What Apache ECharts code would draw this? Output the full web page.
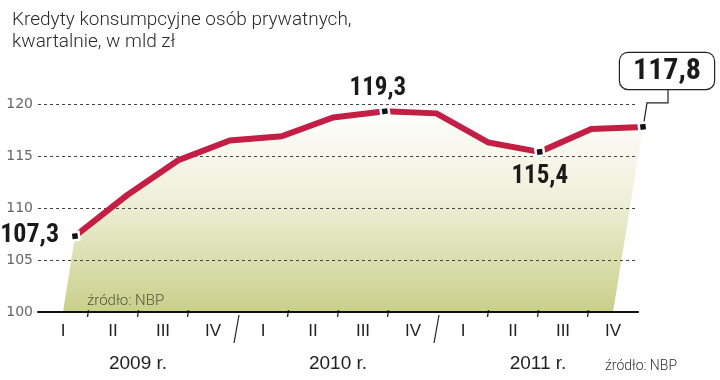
<!DOCTYPE html>
<html>
<head>
<meta charset="utf-8">
<script src="https://cdn.jsdelivr.net/npm/echarts@6/dist/echarts.min.js"></script>
<style>
html,body{margin:0;padding:0;background:#fff;}
#c{width:720px;height:380px;}
</style>
</head>
<body>
<div id="c"></div>
<script>
// ---- data ----
const quarterKeys = ['2009 I','2009 II','2009 III','2009 IV','2010 I','2010 II','2010 III','2010 IV','2011 I','2011 II','2011 III','2011 IV'];
const quarterLabels = ['I','II','III','IV','I','II','III','IV','I','II','III','IV'];
const yearLabels = ['2009 r.','2010 r.','2011 r.'];
const credit = [107.3, 111.2, 114.6, 116.5, 116.9, 118.7, 119.3, 119.1, 116.3, 115.4, 117.6, 117.8];
const labelledPoints = [0, 6, 9, 11];
const yMin = 100, yMax = 120, yStep = 5;
const titleText = 'Kredyty konsumpcyjne osób prywatnych,\nkwartalnie, w mld zł';
const sourceText = 'źródło: NBP';

// ---- styles ----
const NUM_FONT = "'Liberation Sans Narrow','Roboto Condensed','DejaVu Sans Condensed',sans-serif";
const TXT_FONT = "Roboto,'Liberation Sans',sans-serif";
const RED = '#c41e44';
const fmt = v => v.toFixed(1).replace('.', ',');

const chart = echarts.init(document.getElementById('c'), null, {renderer: 'canvas'});

function labelFor(i) {
  const base = {show: true, formatter: p => fmt(p.value), fontFamily: NUM_FONT, fontWeight: 'bold', color: '#1a1a1a'};
  if (i === 0) return Object.assign(base, {position: 'left', distance: 10, fontSize: 26, offset: [0, -1]});
  if (i === labelledPoints[1]) return Object.assign(base, {position: 'top', distance: 4, fontSize: 25, offset: [-7, 0]});
  if (i === labelledPoints[2]) return Object.assign(base, {position: 'bottom', distance: 6, fontSize: 25});
  return Object.assign(base, {
    position: 'top', distance: 32, offset: [24, 0], fontSize: 30,
    backgroundColor: '#fff', borderColor: '#222', borderWidth: 1.2, borderRadius: 8,
    padding: [4, 13, 2, 13]
  });
}

const lineData = credit.map((v, i) => {
  if (labelledPoints.indexOf(i) >= 0) {
    return {value: v, symbol: 'rect', symbolSize: 8, symbolRotate: 8,
      itemStyle: {color: '#111', borderColor: '#fff', borderWidth: 2.5},
      label: labelFor(i)};
  }
  return {value: v, symbol: 'none'};
});

const option = {
  animation: false,
  backgroundColor: '#fff',
  title: [
    {text: titleText, left: 7, top: 4,
     textStyle: {fontFamily: TXT_FONT, fontWeight: 300, fontSize: 19, lineHeight: 22, color: '#2a2a2a'}},
    {text: sourceText, left: 82, top: 289,
     textStyle: {fontFamily: TXT_FONT, fontWeight: 300, fontSize: 15, color: '#55553f'}},
    {text: sourceText, left: 600, top: 354,
     textStyle: {fontFamily: TXT_FONT, fontWeight: 300, fontSize: 14, color: '#333'}}
  ],
  grid: [
    {left: 38, right: 82, top: 104, bottom: 68},
    {left: 75, right: 77, top: 104, bottom: 68}
  ],
  xAxis: [
    {type: 'category', gridIndex: 0, data: quarterKeys, boundaryGap: true, position: 'bottom',
     axisLine: {show: true, lineStyle: {color: '#111', width: 2}},
     axisTick: {show: false},
     axisLabel: {margin: 11, fontFamily: "'Liberation Sans',sans-serif", fontSize: 17, color: '#222',
       formatter: (v, i) => quarterLabels[i]},
     splitLine: {show: false}},
    {type: 'category', gridIndex: 1, data: quarterKeys, boundaryGap: false, show: false},
    {type: 'category', gridIndex: 0, data: yearLabels, boundaryGap: true, position: 'bottom', offset: 0,
     axisLine: {show: false}, axisTick: {show: false}, splitLine: {show: false},
     axisLabel: {margin: 42, fontFamily: "'Liberation Sans',sans-serif", fontSize: 19, color: '#222'}}
  ],
  yAxis: [
    {type: 'value', gridIndex: 0, min: yMin, max: yMax, interval: yStep,
     axisLine: {show: false}, axisTick: {show: false},
     axisLabel: {margin: 5, fontFamily: "'DejaVu Sans',sans-serif", fontSize: 14, color: '#666'},
     splitLine: {show: true, lineStyle: {color: '#444', width: 1, type: [3, 3]}}},
    {type: 'value', gridIndex: 1, min: yMin, max: yMax, interval: yStep, show: false,
     splitLine: {show: false}}
  ],
  series: [
    {
      type: 'custom', xAxisIndex: 1, yAxisIndex: 1, z: -1, silent: true,
      data: credit.map((v, i) => [i, v]),
      renderItem: function (params, api) {
        if (params.dataIndex !== 0) return null;
        const pts = credit.map((v, i) => api.coord([i, v]));
        const base = api.coord([0, yMin])[1];
        const top = api.coord([0, yMax])[1];
        const first = pts[0], last = pts[pts.length - 1];
        const poly = [[first[0] - 12, base]].concat(pts, [[last[0] - 30, base]]);
        return {
          type: 'polygon',
          shape: {points: poly},
          style: {
            fill: new echarts.graphic.LinearGradient(0, top, 0, base, [
              {offset: 0, color: '#ffffff'},
              {offset: 0.45, color: '#eff0da'},
              {offset: 1, color: '#cacf8a'}
            ], true)
          }
        };
      }
    },
    {
      type: 'custom', xAxisIndex: 1, yAxisIndex: 1, z: 3, silent: true,
      data: [[credit.length - 1, credit[credit.length - 1]]],
      renderItem: function (params, api) {
        const p = api.coord([api.value(0), api.value(1)]);
        return {
          type: 'polyline',
          shape: {points: [[p[0] + 25, p[1] - 38], [p[0] + 25, p[1] - 24], [p[0] + 4, p[1] - 24], [p[0] + 1, p[1] - 5]]},
          style: {stroke: '#222', lineWidth: 1.2, fill: null}
        };
      }
    },
    {
      type: 'line', xAxisIndex: 1, yAxisIndex: 1, z: 4,
      data: lineData,
      showSymbol: true,
      lineStyle: {color: RED, width: 6, cap: 'butt', join: 'miter'},
      itemStyle: {color: RED},
      emphasis: {disabled: true}
    }
  ]
};
chart.setOption(option);

// quarter ticks and year separators, placed from the axis scale
const axisY = chart.convertToPixel({yAxisIndex: 0}, yMin);
const marks = [];
for (let k = 1; k < quarterKeys.length; k++) {
  const a = chart.convertToPixel({xAxisIndex: 0}, k - 1);
  const b = chart.convertToPixel({xAxisIndex: 0}, k);
  const bx = (a + b) / 2;
  if (k % 4 === 0) {
    marks.push({type: 'line', shape: {x1: bx + 1, y1: axisY + 3, x2: bx - 4, y2: axisY + 31},
      style: {stroke: '#222', lineWidth: 1.2}});
  } else {
    marks.push({type: 'line', shape: {x1: bx + 0.5, y1: axisY - 2, x2: bx - 0.5, y2: axisY + 5},
      style: {stroke: '#222', lineWidth: 1.3}});
  }
}
chart.setOption({graphic: marks});
</script>
</body>
</html>
